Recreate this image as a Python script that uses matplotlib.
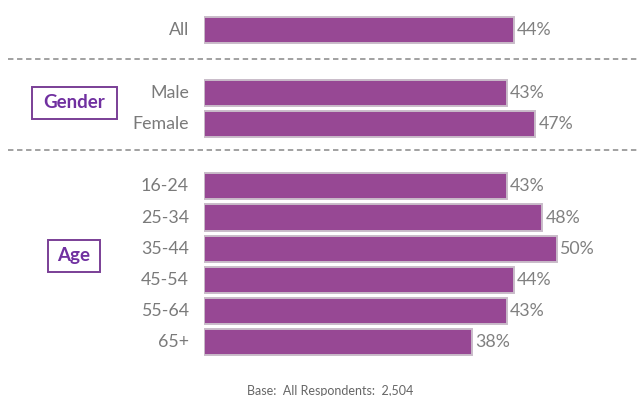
import matplotlib.pyplot as plt
import matplotlib.transforms as mtransforms
from matplotlib.patches import Rectangle

# 数据
labels = ['All', 'Male', 'Female', '16-24', '25-34', '35-44', '45-54', '55-64', '65+']
values = [44, 43, 47, 43, 48, 50, 44, 43, 38]
rows = [0, 2, 3, 5, 6, 7, 8, 9, 10]  # 分组之间空一行
groups = ['Gender', 'Age']
footer = 'Base:  All Respondents:  2,504'

plt.rcParams['font.family'] = ['Lato', 'DejaVu Sans']

W, H = 639, 396
fig = plt.figure(figsize=(W / 100, H / 100), dpi=100)
ax = fig.add_axes([204 / W, 0, 435 / W, 1])

bar_color = '#974894'
ax.barh(rows, values, height=0.84, color=bar_color, edgecolor='#c9bcc9', linewidth=1.4)
ax.set_xlim(0, 435 / 7.05)
ax.set_ylim(11.72, -0.97)
ax.axis('off')

# 类别标签和数值标签
for r, lab, v in zip(rows, labels, values):
    ax.annotate(lab, (0, r), xytext=(-15, 0), textcoords='offset pixels',
                ha='right', va='center', fontsize=12.8, color='#7a7a7a')
    ax.annotate(f'{v}%', (v, r), xytext=(3, 0), textcoords='offset pixels',
                ha='left', va='center', fontsize=12.8, color='#808080')

# 分组分隔虚线
trans = mtransforms.blended_transform_factory(fig.transFigure, ax.transData)
for y in [0.93, 3.84]:
    ax.plot([8 / W, 1], [y, y], transform=trans, clip_on=False,
            color='#9a9a9a', linewidth=1.3, linestyle=(0, (3, 2)))

# 分组标签框 (像素坐标: 左, 上, 右, 下)
boxes = [(32, 87, 117, 119), (48, 240, 100, 272)]
for name, (x0, y0, x1, y1) in zip(groups, boxes):
    fig.patches.append(Rectangle((x0 / W, 1 - y1 / H), (x1 - x0) / W, (y1 - y0) / H,
                                 transform=fig.transFigure, facecolor='white',
                                 edgecolor='#7a3f96', linewidth=1.4))
    fig.text((x0 + x1) / 2 / W, 1 - (y0 + y1) / 2 / H, name, ha='center', va='center',
             fontsize=13.5, fontweight='bold', color='#7030a0')

fig.text(330 / W, 1 - 391 / H, footer, ha='center', va='center', fontsize=9, color='#666666')

fig.savefig('out.png', dpi=100)
